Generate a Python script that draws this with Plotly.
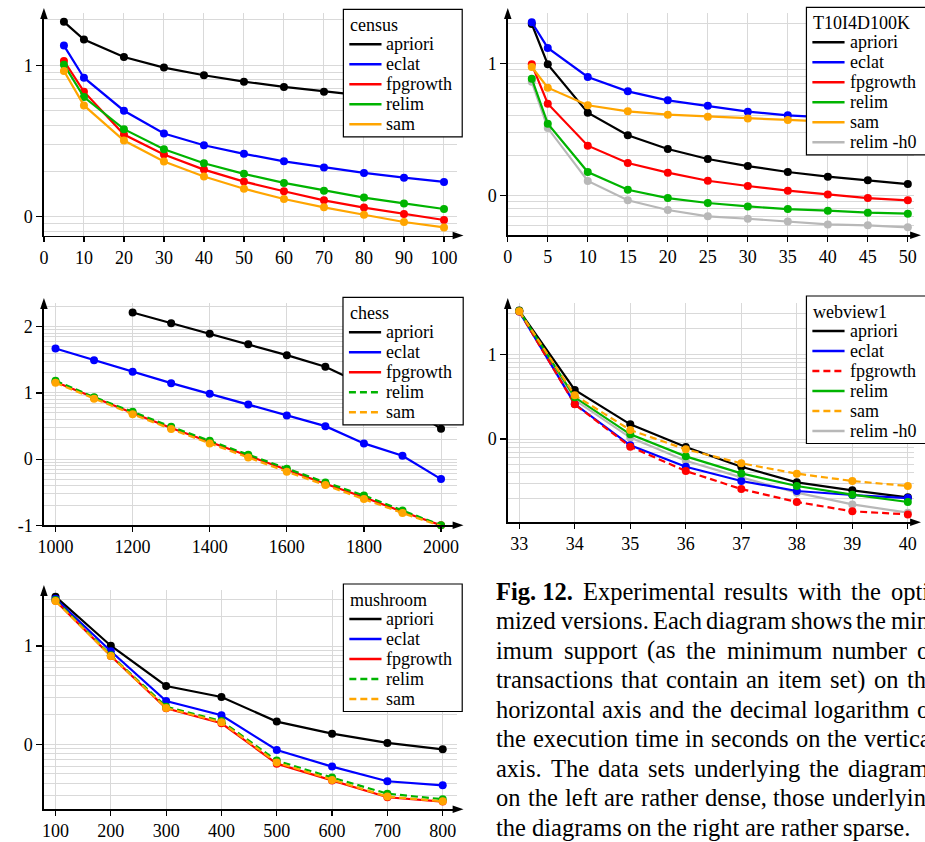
import math
import plotly.graph_objects as go

# Geometry below is given in page pixels of the 925x842 picture. The figure is
# drawn slightly taller (852) because the photographed page is squeezed
# vertically to 842; paper fractions are computed against the 842 picture.
PIC_W, PIC_H = 925, 842
W, H = 925, 852
FONT = "Liberation Serif, Times New Roman, serif"
GRID = "#d9d9d9"

# ---------------- data (decimal log of execution time in seconds) ----------------
census_x = [5, 10, 20, 30, 40, 50, 60, 70, 80, 90, 100]
census_apriori = [1.287, 1.170, 1.055, 0.985, 0.934, 0.892, 0.857, 0.826, 0.800, 0.776, 0.755]
census_eclat = [1.130, 0.918, 0.700, 0.550, 0.472, 0.415, 0.366, 0.325, 0.289, 0.258, 0.230]
census_fpgrowth = [1.029, 0.826, 0.543, 0.411, 0.311, 0.232, 0.168, 0.108, 0.060, 0.018, -0.022]
census_relim = [1.004, 0.790, 0.578, 0.446, 0.353, 0.283, 0.223, 0.172, 0.126, 0.088, 0.051]
census_sam = [0.962, 0.735, 0.503, 0.364, 0.265, 0.185, 0.117, 0.062, 0.013, -0.035, -0.071]

t10_x = [3, 5, 10, 15, 20, 25, 30, 35, 40, 45, 50]
t10_apriori = [1.297, 0.992, 0.627, 0.456, 0.353, 0.277, 0.224, 0.179, 0.144, 0.116, 0.088]
t10_eclat = [1.310, 1.116, 0.897, 0.788, 0.720, 0.680, 0.635, 0.607, 0.590, 0.575, 0.560]
t10_fpgrowth = [0.992, 0.695, 0.378, 0.247, 0.174, 0.113, 0.073, 0.038, 0.010, -0.018, -0.035]
t10_relim = [0.884, 0.544, 0.179, 0.045, -0.018, -0.055, -0.081, -0.101, -0.113, -0.128, -0.136]
t10_sam = [0.972, 0.816, 0.683, 0.637, 0.612, 0.597, 0.584, 0.572, 0.560, 0.550, 0.540]
t10_relim_h0 = [0.860, 0.511, 0.111, -0.035, -0.108, -0.156, -0.174, -0.194, -0.217, -0.224, -0.239]

chess_x = [1000, 1100, 1200, 1300, 1400, 1500, 1600, 1700, 1800, 1900, 2000]
chess_apriori_x = [1200, 1300, 1400, 1500, 1600, 1700, 1800, 1900, 2000]
chess_apriori = [2.214, 2.053, 1.892, 1.736, 1.570, 1.394, 1.120, 0.820, 0.460]
chess_eclat = [1.671, 1.495, 1.319, 1.147, 0.986, 0.825, 0.659, 0.498, 0.237, 0.050, -0.302]
chess_fpgrowth = [1.165, 0.925, 0.697, 0.470, 0.257, 0.045, -0.168, -0.372, -0.577, -0.795, -1.000]
chess_relim = [1.183, 0.936, 0.715, 0.488, 0.277, 0.065, -0.146, -0.352, -0.549, -0.775, -1.000]
chess_sam = [1.152, 0.911, 0.679, 0.453, 0.237, 0.025, -0.191, -0.393, -0.604, -0.815, -1.010]

web_x = [33, 34, 35, 36, 37, 38, 39, 40]
web_apriori = [1.516, 0.579, 0.173, -0.094, -0.327, -0.512, -0.606, -0.689]
web_eclat = [1.504, 0.413, -0.075, -0.327, -0.496, -0.614, -0.661, -0.697]
web_fpgrowth = [1.504, 0.409, -0.091, -0.378, -0.591, -0.744, -0.854, -0.890]
web_relim = [1.512, 0.492, 0.055, -0.205, -0.406, -0.555, -0.657, -0.744]
web_sam = [1.508, 0.516, 0.106, -0.122, -0.287, -0.409, -0.496, -0.555]
web_relim_h0 = [1.510, 0.460, 0.016, -0.256, -0.453, -0.634, -0.772, -0.870]

mush_x = [100, 200, 300, 400, 500, 600, 700, 800]
mush_apriori = [1.502, 1.003, 0.593, 0.481, 0.231, 0.108, 0.014, -0.051]
mush_eclat = [1.481, 0.946, 0.441, 0.295, -0.058, -0.227, -0.376, -0.417]
mush_fpgrowth = [1.461, 0.898, 0.366, 0.214, -0.197, -0.369, -0.539, -0.583]
mush_relim = [1.468, 0.905, 0.383, 0.237, -0.166, -0.339, -0.502, -0.559]
mush_sam = [1.458, 0.898, 0.369, 0.224, -0.186, -0.363, -0.532, -0.580]

census_xticks = [0, 10, 20, 30, 40, 50, 60, 70, 80, 90, 100]
t10_xticks = [0, 5, 10, 15, 20, 25, 30, 35, 40, 45, 50]
chess_xticks = [1000, 1200, 1400, 1600, 1800, 2000]
web_xticks = [33, 34, 35, 36, 37, 38, 39, 40]
mush_xticks = [100, 200, 300, 400, 500, 600, 700, 800]

caption_lines = [
    "Fig. 12. Experimental results with the opti-",
    "mized versions. Each diagram shows the min-",
    "imum support (as the minimum number of",
    "transactions that contain an item set) on the",
    "horizontal axis and the decimal logarithm of",
    "the execution time in seconds on the vertical",
    "axis. The data sets underlying the diagrams",
    "on the left are rather dense, those underlying",
    "the diagrams on the right are rather sparse.",
]

COLORS = {"apriori": "#000000", "eclat": "#0000ff", "fpgrowth": "#ff0000",
          "relim": "#00b400", "sam": "#ffa500", "relim -h0": "#b8b8b8"}
DASH = "7px,4px"

# ---------------- panel layout (picture-pixel geometry) ----------------
panels = [
    dict(title="census", ax_x=38.3, ax_y=235.5, right=455, top=13,
         xcal=((0, 38.3), (100, 442.3)), ycal=((0, 216.7), (1, 65.3)),
         xticks=census_xticks, yticks=[0, 1], legend=(340.7, 9.3, 460.7),
         series=[("apriori", census_x, census_apriori, False),
                 ("eclat", census_x, census_eclat, False),
                 ("fpgrowth", census_x, census_fpgrowth, False),
                 ("relim", census_x, census_relim, False),
                 ("sam", census_x, census_sam, False)]),
    dict(title="T10I4D100K", ax_x=506.7, ax_y=235.3, right=917, top=13,
         xcal=((0, 506.7), (50, 910.7)), ycal=((0, 195.7), (1, 63.3)),
         xticks=t10_xticks, yticks=[0, 1], legend=(808.3, 7.3, 940),
         series=[("relim -h0", t10_x, t10_relim_h0, False),
                 ("apriori", t10_x, t10_apriori, False),
                 ("eclat", t10_x, t10_eclat, False),
                 ("fpgrowth", t10_x, t10_fpgrowth, False),
                 ("relim", t10_x, t10_relim, False),
                 ("sam", t10_x, t10_sam, False)],
         order=["apriori", "eclat", "fpgrowth", "relim", "sam", "relim -h0"]),
    dict(title="chess", ax_x=38.3, ax_y=525.3, right=455, top=303,
         xcal=((1000, 50), (2000, 439.3)), ycal=((-1, 525.3), (2, 326.7)),
         xticks=chess_xticks, yticks=[-1, 0, 1, 2], legend=(340.3, 297.3, 461.7),
         series=[("apriori", chess_apriori_x, chess_apriori, False),
                 ("eclat", chess_x, chess_eclat, False),
                 ("fpgrowth", chess_x, chess_fpgrowth, False),
                 ("relim", chess_x, chess_relim, True),
                 ("sam", chess_x, chess_sam, True)]),
    dict(title="webview1", ax_x=506.7, ax_y=522.3, right=917, top=303,
         xcal=((33, 518.3), (40, 910.7)), ycal=((0, 439.0), (1, 354.3)),
         xticks=web_xticks, yticks=[0, 1], legend=(808.3, 296, 940),
         series=[("relim -h0", web_x, web_relim_h0, False),
                 ("apriori", web_x, web_apriori, False),
                 ("eclat", web_x, web_eclat, False),
                 ("fpgrowth", web_x, web_fpgrowth, True),
                 ("relim", web_x, web_relim, False),
                 ("sam", web_x, web_sam, True)],
         order=["apriori", "eclat", "fpgrowth", "relim", "sam", "relim -h0"]),
    dict(title="mushroom", ax_x=38.3, ax_y=809.3, right=455, top=590,
         xcal=((100, 50), (800, 441)), ycal=((0, 744.3), (1, 646)),
         xticks=mush_xticks, yticks=[0, 1], legend=(340.7, 584, 460.7),
         series=[("apriori", mush_x, mush_apriori, False),
                 ("eclat", mush_x, mush_eclat, False),
                 ("fpgrowth", mush_x, mush_fpgrowth, False),
                 ("relim", mush_x, mush_relim, True),
                 ("sam", mush_x, mush_sam, True)]),
]


def fx(px):
    return px / PIC_W


def fy(py):
    return 1 - py / PIC_H


def cal_range(cal, p_lo, p_hi):
    (v1, p1), (v2, p2) = cal
    s = (p2 - p1) / (v2 - v1)
    return [v1 + (p_lo - p1) / s, v1 + (p_hi - p1) / s]


fig = go.Figure()
shapes = []
annotations = []
layout_axes = {}

for i, P in enumerate(panels):
    k = "" if i == 0 else str(i + 1)
    right = P["right"]
    xr = cal_range(P["xcal"], P["ax_x"], right)
    yr = cal_range(P["ycal"], P["ax_y"], P["top"])
    minor = []
    for dec in range(int(math.floor(yr[0])) - 1, int(math.ceil(yr[1])) + 1):
        for m in range(2, 10):
            v = dec + math.log10(m)
            if yr[0] < v < yr[1]:
                minor.append(v)
    layout_axes["xaxis" + k] = dict(
        domain=[fx(P["ax_x"]), fx(right)], range=xr, anchor="y" + k,
        showline=True, linecolor="black", linewidth=1.5,
        ticks="outside", ticklen=5, tickwidth=1.2, tickcolor="black",
        tickmode="array", tickvals=P["xticks"], ticktext=[str(t) for t in P["xticks"]],
        showgrid=True, gridcolor=GRID, gridwidth=1, zeroline=False,
        tickfont=dict(family=FONT, size=18, color="black"), fixedrange=True)
    layout_axes["yaxis" + k] = dict(
        domain=[fy(P["ax_y"]), fy(P["top"])], range=yr, anchor="x" + k,
        showline=True, linecolor="black", linewidth=1.5,
        ticks="outside", ticklen=6, tickwidth=1.2, tickcolor="black",
        tickmode="array", tickvals=P["yticks"], ticktext=[str(t) for t in P["yticks"]],
        showgrid=True, gridcolor=GRID, gridwidth=1, zeroline=False,
        minor=dict(tickmode="array", tickvals=minor, showgrid=True,
                   gridcolor=GRID, gridwidth=1, ticks=""),
        tickfont=dict(family=FONT, size=18, color="black"), fixedrange=True)

    for name, xs, ys, dashed in P["series"]:
        fig.add_trace(go.Scatter(
            x=xs, y=ys, mode="lines+markers", name=name, showlegend=False,
            xaxis="x" + k, yaxis="y" + k, cliponaxis=False,
            line=dict(color=COLORS[name], width=2.2, dash=DASH if dashed else "solid"),
            marker=dict(color=COLORS[name], size=8)))

    # axis arrowheads
    ax, ay, top = P["ax_x"], P["ax_y"], P["top"]
    shapes.append(dict(type="path", xref="paper", yref="paper",
                       path=f"M {fx(ax - 3.8)} {fy(top + 6)} L {fx(ax)} {fy(top - 5)} L {fx(ax + 3.8)} {fy(top + 6)} Z",
                       fillcolor="black", line=dict(width=0), layer="above"))
    shapes.append(dict(type="path", xref="paper", yref="paper",
                       path=f"M {fx(right - 4)} {fy(ay - 3.8)} L {fx(right + 7)} {fy(ay)} L {fx(right - 4)} {fy(ay + 3.8)} Z",
                       fillcolor="black", line=dict(width=0), layer="above"))

    # legend box
    lx, lt, lr = P["legend"]
    order = P.get("order", [s[0] for s in P["series"]])
    dashed_map = {s[0]: s[3] for s in P["series"]}
    n = len(order)
    lb = lt + 35 + 20 * (n - 1) + 12.5
    shapes.append(dict(type="rect", xref="paper", yref="paper",
                       x0=fx(lx), x1=fx(lr), y0=fy(lt), y1=fy(lb),
                       fillcolor="white", line=dict(color="black", width=1.2), layer="above"))
    annotations.append(dict(text=P["title"], xref="paper", yref="paper",
                            x=fx(lx + 5), y=fy(lt + 15.5), xanchor="left", yanchor="middle",
                            showarrow=False, font=dict(family=FONT, size=18, color="black")))
    for j, name in enumerate(order):
        yc = lt + 35 + 20 * j
        shapes.append(dict(type="line", xref="paper", yref="paper",
                           x0=fx(lx + 6), x1=fx(lx + 38.5), y0=fy(yc), y1=fy(yc),
                           line=dict(color=COLORS[name], width=2.5,
                                     dash=DASH if dashed_map[name] else "solid"),
                           layer="above"))
        annotations.append(dict(text=name, xref="paper", yref="paper",
                                x=fx(lx + 41.5), y=fy(yc), xanchor="left", yanchor="middle",
                                showarrow=False, font=dict(family=FONT, size=18, color="black")))

# ---------------- caption (justified, word by word) ----------------
TIMES = {' ': 250, '!': 333, '(': 333, ')': 333, ',': 250, '-': 333, '.': 250,
         'A': 722, 'B': 667, 'C': 667, 'D': 722, 'E': 611, 'F': 556, 'G': 722, 'H': 722,
         'I': 333, 'J': 389, 'K': 722, 'L': 611, 'M': 889, 'N': 722, 'O': 722, 'P': 556,
         'Q': 722, 'R': 667, 'S': 556, 'T': 611, 'U': 722, 'V': 722, 'W': 944, 'X': 722,
         'Y': 722, 'Z': 611,
         'a': 444, 'b': 500, 'c': 444, 'd': 500, 'e': 444, 'f': 333, 'g': 500, 'h': 500,
         'i': 278, 'j': 278, 'k': 500, 'l': 278, 'm': 778, 'n': 500, 'o': 500, 'p': 500,
         'q': 500, 'r': 333, 's': 389, 't': 278, 'u': 500, 'v': 500, 'w': 722, 'x': 500,
         'y': 500, 'z': 444}
BOLD = dict(TIMES, F=611)
CAP_SIZE = 24.5
CAP_LEFT, CAP_RIGHT = 495, 940
CAP_TOP, CAP_STEP = 591, 29.5


def tw(s, bold=False):
    tab = BOLD if bold else TIMES
    return sum(tab.get(c, 500) for c in s) * CAP_SIZE / 1000


for li, line in enumerate(caption_lines):
    words = line.split(" ")
    tokens = []
    if li == 0:
        tokens.append(("Fig. 12.", True))
        words = words[2:]
    tokens += [(w, False) for w in words]
    widths = [tw(t, b) for t, b in tokens]
    if li == len(caption_lines) - 1:
        gap = CAP_SIZE * 0.25
    else:
        gap = (CAP_RIGHT - CAP_LEFT - sum(widths)) / (len(tokens) - 1)
    xcur = CAP_LEFT
    yc = CAP_TOP + CAP_STEP * li
    for (t, b), wd in zip(tokens, widths):
        annotations.append(dict(text=f"<b>{t}</b>" if b else t, xref="paper", yref="paper",
                                x=fx(xcur - 2), y=fy(yc), xanchor="left", yanchor="middle",
                                showarrow=False,
                                font=dict(family=FONT, size=CAP_SIZE, color="black")))
        xcur += wd + gap

fig.update_layout(
    width=W, height=H, margin=dict(l=0, r=0, t=0, b=0),
    paper_bgcolor="white", plot_bgcolor="white", showlegend=False,
    font=dict(family=FONT, color="black"),
    shapes=shapes, annotations=annotations, **layout_axes)

PAGE_FIX = "document.documentElement.style.margin='0'; document.body.style.margin='0';"

fig.write_html("out.html", post_script=PAGE_FIX,
               config={"displayModeBar": False, "staticPlot": True})
